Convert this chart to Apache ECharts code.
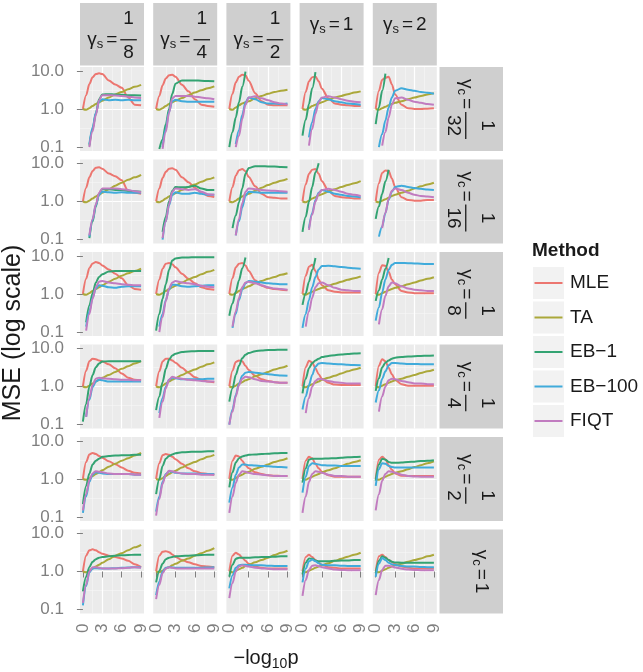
<!DOCTYPE html>
<html><head><meta charset="utf-8">
<script src="https://cdn.jsdelivr.net/npm/echarts@6/dist/echarts.min.js"></script>
<style>html,body{margin:0;padding:0;background:#fff}#c{width:643px;height:672px}</style>
</head><body><div id="c"></div>
<script>
// ---------- data ----------
const xGrid = [0, 0.5, 1, 1.5, 2, 2.5, 3, 4, 5, 6, 7, 8, 9];
const xTicks = [0, 3, 6, 9];
const yTicks = [0.1, 1, 10];
const gammaS = ['1/8', '1/4', '1/2', '1', '2'];
const gammaC = ['1/32', '1/16', '1/8', '1/4', '1/2', '1'];
const methods = ['MLE', 'TA', 'EB\u22121', 'EB\u2212100', 'FIQT'];

// gamma_c = 1/32
const mle_c32 = [
 [1.0, 2.3, 4.5, 6.8, 8.2, 8.6, 8.2, 5.6, 4.4, 3.6, 2.0, 1.3, 1.25],
 [1.0, 2.2, 4.2, 6.3, 7.6, 7.9, 7.0, 4.3, 2.9, 1.8, 1.3, 1.2, 1.15],
 [1.0, 2.5, 5.0, 7.0, 7.9, 7.6, 5.5, 2.6, 1.6, 1.3, 1.25, 1.25, 1.25],
 [1.0, 2.8, 5.3, 6.8, 7.1, 5.3, 3.4, 1.9, 1.4, 1.3, 1.25, 1.2, 1.2],
 [1.0, 3.0, 5.8, 6.6, 7.0, 4.4, 2.4, 1.3, 1.05, 1.0, 1.0, 1.02, 1.05]];
const ta_c32 = [
 [1.0, 0.95, 1.05, 1.2, 1.35, 1.5, 1.65, 2.0, 2.4, 2.8, 3.3, 3.8, 4.3],
 [1.0, 0.95, 1.05, 1.2, 1.35, 1.5, 1.65, 1.95, 2.3, 2.7, 3.1, 3.5, 3.9],
 [1.0, 0.95, 1.1, 1.25, 1.4, 1.5, 1.6, 1.9, 2.2, 2.5, 2.8, 3.0, 3.2],
 [1.0, 0.95, 1.05, 1.2, 1.3, 1.4, 1.5, 1.75, 2.0, 2.2, 2.45, 2.7, 2.9],
 [1.0, 0.95, 1.05, 1.15, 1.25, 1.35, 1.45, 1.6, 1.8, 2.0, 2.2, 2.4, 2.6]];
const eb1_c32 = [
 [null, null, 0.11, 0.3, 0.75, 1.8, 2.4, 2.45, 2.4, 2.35, 2.3, 2.3, 2.25],
 [null, 0.09, 0.16, 0.4, 1.0, 2.5, 4.6, 5.6, 5.6, 5.6, 5.5, 5.4, 5.3],
 [0.1, 0.25, 0.6, 1.5, 3.8, 9.5],
 [0.2, 0.52, 1.35, 3.5, 9.3],
 [0.4, 1.1, 3.0, 8.5]];
const eb100_c32 = [
 [null, null, 0.12, 0.33, 0.8, 1.55, 1.8, 1.7, 1.75, 1.7, 1.75, 1.7, 1.7],
 [null, null, 0.1, 0.3, 0.85, 1.6, 1.75, 1.6, 1.55, 1.55, 1.55, 1.55, 1.55],
 [null, null, 0.12, 0.28, 0.7, 1.5, 2.0, 1.8, 1.5, 1.4, 1.4, 1.35, 1.4],
 [null, null, 0.18, 0.45, 1.0, 1.6, 1.95, 1.8, 1.6, 1.5, 1.4, 1.35, 1.3],
 [null, 0.1, 0.22, 0.5, 1.1, 2.0, 3.0, 3.5, 3.2, 3.0, 2.8, 2.65, 2.5]];
const fiqt_c32 = [
 [null, null, 0.1, 0.26, 0.7, 1.7, 2.3, 2.3, 2.25, 2.2, 2.1, 2.0, 1.95],
 [null, null, 0.09, 0.25, 0.8, 1.9, 2.2, 2.2, 2.2, 2.1, 2.0, 1.9, 1.8],
 [null, null, 0.1, 0.2, 0.55, 1.3, 2.0, 2.15, 1.9, 1.7, 1.5, 1.4, 1.3],
 [null, null, 0.11, 0.3, 0.75, 1.5, 2.0, 2.15, 2.0, 1.8, 1.65, 1.55, 1.5],
 [null, null, 0.11, 0.25, 0.6, 1.3, 1.9, 2.0, 1.75, 1.55, 1.45, 1.35, 1.3]];

// gamma_c = 1/16
const mle_c16 = [
 [1.0, 2.3, 4.3, 6.3, 7.6, 7.9, 7.2, 5.4, 4.6, 3.6, 1.9, 1.7, 1.6],
 [1.0, 2.2, 4.1, 6.0, 7.2, 7.4, 6.8, 4.3, 3.2, 2.3, 1.7, 1.4, 1.3],
 [1.0, 2.4, 4.8, 6.6, 7.1, 6.2, 4.4, 2.5, 1.6, 1.3, 1.25, 1.2, 1.2],
 [1.0, 2.8, 5.3, 6.8, 7.1, 5.3, 3.4, 1.9, 1.4, 1.3, 1.25, 1.2, 1.2],
 [1.0, 3.0, 5.6, 6.5, 6.3, 4.0, 2.4, 1.3, 1.1, 1.05, 1.05, 1.1, 1.1]];
const ta_c16 = [
 [1.0, 0.95, 1.05, 1.2, 1.35, 1.5, 1.7, 2.1, 2.6, 3.1, 3.7, 4.3, 5.0],
 [1.0, 0.95, 1.05, 1.2, 1.35, 1.5, 1.65, 2.0, 2.4, 2.8, 3.3, 3.8, 4.3],
 [1.0, 0.95, 1.05, 1.2, 1.35, 1.5, 1.6, 1.9, 2.3, 2.7, 3.1, 3.5, 3.9],
 [1.0, 0.95, 1.05, 1.2, 1.3, 1.45, 1.55, 1.8, 2.1, 2.4, 2.7, 3.0, 3.4],
 [1.0, 0.95, 1.05, 1.15, 1.25, 1.4, 1.5, 1.7, 1.9, 2.2, 2.5, 2.8, 3.1]];
const eb1_c16 = [
 [null, null, 0.11, 0.3, 0.75, 1.6, 2.1, 2.1, 2.0, 2.0, 1.9, 1.85, 1.8],
 [null, null, 0.16, 0.4, 1.0, 1.9, 2.4, 2.35, 2.4, 2.6, 2.2, 2.0, 2.0],
 [null, 0.2, 0.43, 0.96, 2.2, 5.3, 7.5, 8.4, 8.4, 8.3, 8.2, 8.0, 7.9],
 [0.16, 0.4, 0.98, 2.4, 5.8, 10],
 [0.35, 0.75, 1.6, 3.4, 6.8]];
const eb100_c16 = [
 [null, null, 0.12, 0.33, 0.8, 1.5, 1.8, 1.75, 1.7, 1.75, 1.7, 1.7, 1.7],
 [null, null, 0.1, 0.3, 0.8, 1.5, 1.75, 1.6, 1.6, 1.7, 1.6, 1.5, 1.5],
 [null, null, 0.13, 0.3, 0.7, 1.4, 1.8, 1.75, 1.7, 1.7, 1.7, 1.7, 1.7],
 [null, null, 0.2, 0.5, 1.1, 1.7, 2.0, 1.8, 1.6, 1.5, 1.4, 1.35, 1.3],
 [null, 0.12, 0.22, 0.5, 1.1, 1.8, 2.4, 2.6, 2.4, 2.25, 2.15, 2.05, 2.0]];
const fiqt_c16 = [
 [null, null, 0.13, 0.35, 0.85, 1.7, 2.2, 2.2, 2.2, 2.1, 2.0, 1.85, 1.75],
 [null, null, 0.11, 0.3, 0.85, 1.8, 2.2, 2.1, 2.0, 2.1, 1.8, 1.55, 1.5],
 [null, null, 0.13, 0.35, 0.9, 1.8, 2.2, 2.1, 2.0, 1.95, 1.9, 1.85, 1.8],
 [null, null, 0.18, 0.45, 1.0, 1.6, 2.0, 2.15, 2.0, 1.8, 1.6, 1.5, 1.4],
 [null, null, 0.2, 0.5, 1.2, 1.9, 2.2, 2.0, 1.7, 1.5, 1.4, 1.35, 1.3]];

// gamma_c = 1/8
const mle_c8 = [
 [1.0, 2.5, 4.8, 6.3, 6.9, 6.5, 5.6, 4.4, 3.4, 2.6, 1.7, 1.35, 1.3],
 [1.0, 2.4, 4.6, 6.2, 6.5, 6.0, 5.0, 3.4, 2.5, 1.9, 1.5, 1.35, 1.3],
 [1.0, 2.6, 5.0, 6.2, 6.5, 5.6, 4.0, 2.3, 1.65, 1.45, 1.35, 1.3, 1.25],
 [1.0, 3.0, 5.2, 5.8, 4.0, 2.4, 1.7, 1.25, 1.15, 1.1, 1.1, 1.1, 1.1],
 [1.0, 3.6, 5.7, 5.5, 3.8, 2.4, 1.8, 1.2, 1.1, 1.05, 1.05, 1.05, 1.05]];
const ta_c8 = [
 [1.0, 0.95, 1.05, 1.2, 1.35, 1.5, 1.7, 2.1, 2.5, 3.0, 3.5, 4.0, 4.6],
 [1.0, 0.95, 1.05, 1.2, 1.35, 1.5, 1.65, 2.0, 2.4, 2.8, 3.3, 3.8, 4.3],
 [1.0, 0.95, 1.05, 1.2, 1.35, 1.45, 1.6, 1.9, 2.2, 2.5, 2.8, 3.2, 3.5],
 [1.0, 0.95, 1.05, 1.15, 1.25, 1.35, 1.45, 1.65, 1.85, 2.1, 2.35, 2.6, 2.9],
 [1.0, 0.95, 1.05, 1.15, 1.25, 1.35, 1.45, 1.6, 1.8, 2.0, 2.25, 2.5, 2.75]];
const eb1_c8 = [
 [null, 0.18, 0.5, 1.05, 2.0, 2.8, 3.3, 3.9, 4.0, 4.0, 4.0, 4.0, 4.0],
 [0.11, 0.3, 0.75, 1.8, 4.3, 7.5, 8.5, 9.0, 9.1, 9.2, 9.2, 9.2, 9.2],
 [0.27, 0.56, 1.15, 2.3, 4.7, 9.0],
 [0.52, 1.05, 2.1, 4.3, 8.8],
 [0.66, 1.25, 2.4, 4.6, 8.8]];
const eb100_c8 = [
 [null, 0.14, 0.35, 0.8, 1.4, 1.7, 1.65, 1.5, 1.45, 1.55, 1.6, 1.6, 1.6],
 [null, 0.14, 0.3, 0.7, 1.3, 1.75, 1.75, 1.6, 1.55, 1.6, 1.65, 1.7, 1.7],
 [null, 0.13, 0.3, 0.7, 1.3, 1.9, 2.2, 2.1, 2.0, 1.9, 1.85, 1.8, 1.8],
 [0.13, 0.3, 0.7, 1.5, 2.8, 4.4, 5.4, 5.5, 5.3, 5.1, 4.9, 4.7, 4.6],
 [0.2, 0.45, 1.1, 2.4, 4.3, 5.8, 6.5, 6.5, 6.4, 6.3, 6.2, 6.1, 6.1]];
const fiqt_c8 = [
 [null, 0.11, 0.3, 0.75, 1.5, 2.1, 2.2, 2.0, 1.9, 1.8, 1.75, 1.7, 1.7],
 [null, 0.1, 0.25, 0.65, 1.4, 2.0, 2.2, 2.0, 1.9, 1.8, 1.65, 1.55, 1.5],
 [null, 0.14, 0.35, 0.8, 1.5, 2.0, 2.1, 1.9, 1.7, 1.5, 1.4, 1.35, 1.3],
 [null, 0.14, 0.35, 0.8, 1.5, 1.9, 2.0, 1.7, 1.45, 1.3, 1.25, 1.2, 1.2],
 [null, 0.16, 0.4, 0.9, 1.6, 2.0, 1.9, 1.6, 1.4, 1.3, 1.25, 1.2, 1.2]];

// gamma_c = 1/4
const mle_c4 = [
 [1.0, 2.6, 4.6, 5.3, 5.2, 4.8, 4.5, 3.8, 3.0, 2.2, 1.7, 1.5, 1.45],
 [1.0, 2.5, 4.5, 5.3, 5.3, 4.8, 4.2, 3.1, 2.3, 1.75, 1.5, 1.35, 1.3],
 [1.0, 2.6, 4.4, 4.8, 4.6, 3.5, 2.7, 1.9, 1.55, 1.4, 1.3, 1.25, 1.25],
 [1.0, 3.2, 4.7, 4.3, 3.0, 2.1, 1.6, 1.25, 1.12, 1.1, 1.1, 1.1, 1.1],
 [1.0, 3.5, 5.2, 4.6, 3.1, 2.1, 1.5, 1.15, 1.05, 1.05, 1.05, 1.05, 1.05]];
const ta_c4 = [
 [1.0, 0.95, 1.05, 1.2, 1.35, 1.5, 1.7, 2.0, 2.4, 2.9, 3.4, 4.0, 4.6],
 [1.0, 0.95, 1.05, 1.2, 1.35, 1.5, 1.65, 2.0, 2.4, 2.8, 3.3, 3.8, 4.3],
 [1.0, 0.95, 1.05, 1.2, 1.3, 1.45, 1.55, 1.85, 2.1, 2.4, 2.8, 3.1, 3.5],
 [1.0, 0.95, 1.05, 1.15, 1.25, 1.35, 1.5, 1.7, 1.9, 2.2, 2.5, 2.8, 3.1],
 [1.0, 0.95, 1.05, 1.15, 1.25, 1.35, 1.45, 1.6, 1.8, 2.0, 2.25, 2.5, 2.75]];
const eb1_c4 = [
 [0.12, 0.35, 1.0, 2.0, 3.2, 4.0, 4.5, 4.6, 4.6, 4.6, 4.6, 4.6, 4.6],
 [0.24, 0.55, 1.3, 2.9, 5.0, 6.5, 7.2, 8.0, 8.3, 8.4, 8.5, 8.5, 8.5],
 [0.4, 0.9, 2.0, 3.5, 5.5, 6.8, 7.5, 8.4, 8.8, 9.0, 9.1, 9.2, 9.2],
 [0.66, 1.6, 3.0, 4.1, 4.8, 5.3, 5.9, 6.3, 6.6, 6.9, 7.1, 7.3, 7.4],
 [0.77, 1.65, 3.2, 4.2, 4.8, 5.3, 5.7, 5.9, 6.1, 6.2, 6.3, 6.4, 6.5]];
const eb100_c4 = [
 [null, 0.16, 0.45, 0.95, 1.35, 1.5, 1.45, 1.35, 1.35, 1.35, 1.35, 1.35, 1.35],
 [null, 0.2, 0.5, 1.0, 1.5, 1.7, 1.65, 1.55, 1.55, 1.55, 1.55, 1.6, 1.6],
 [0.1, 0.25, 0.6, 1.2, 1.9, 2.3, 2.4, 2.3, 2.2, 2.1, 2.0, 1.95, 1.9],
 [0.25, 0.55, 1.1, 2.0, 3.3, 4.0, 4.1, 4.0, 3.9, 3.8, 3.7, 3.65, 3.6],
 [0.38, 0.8, 1.6, 2.5, 3.6, 4.1, 4.1, 4.0, 3.9, 3.9, 3.85, 3.8, 3.8]];
const fiqt_c4 = [
 [null, 0.16, 0.5, 1.1, 1.6, 1.7, 1.65, 1.6, 1.55, 1.5, 1.5, 1.45, 1.45],
 [null, 0.15, 0.4, 0.9, 1.5, 1.8, 1.7, 1.6, 1.5, 1.45, 1.4, 1.35, 1.35],
 [0.1, 0.22, 0.55, 1.1, 1.6, 1.8, 1.75, 1.55, 1.4, 1.35, 1.3, 1.25, 1.25],
 [null, 0.2, 0.5, 1.0, 1.4, 1.6, 1.55, 1.4, 1.3, 1.25, 1.2, 1.2, 1.2],
 [null, 0.22, 0.55, 1.0, 1.45, 1.6, 1.55, 1.4, 1.3, 1.2, 1.2, 1.15, 1.15]];

// gamma_c = 1/2
const mle_c2 = [
 [1.0, 2.8, 4.4, 4.8, 4.5, 4.0, 3.6, 2.9, 2.45, 2.0, 1.65, 1.45, 1.4],
 [1.0, 2.6, 4.2, 4.5, 4.3, 3.8, 3.3, 2.5, 1.9, 1.6, 1.42, 1.35, 1.3],
 [1.0, 3.0, 4.1, 3.9, 3.0, 2.3, 1.9, 1.5, 1.35, 1.25, 1.22, 1.2, 1.2],
 [1.0, 3.0, 3.8, 3.5, 2.5, 1.9, 1.55, 1.25, 1.15, 1.15, 1.15, 1.15, 1.15],
 [1.0, 3.2, 3.8, 3.3, 2.3, 1.75, 1.4, 1.22, 1.2, 1.2, 1.2, 1.2, 1.2]];
const ta_c2 = [
 [1.0, 0.95, 1.05, 1.2, 1.35, 1.5, 1.7, 2.1, 2.5, 3.0, 3.5, 4.1, 4.8],
 [1.0, 0.95, 1.05, 1.2, 1.35, 1.5, 1.65, 2.0, 2.4, 2.8, 3.3, 3.8, 4.3],
 [1.0, 0.95, 1.05, 1.2, 1.3, 1.45, 1.55, 1.85, 2.1, 2.4, 2.8, 3.1, 3.5],
 [1.0, 0.95, 1.05, 1.15, 1.25, 1.35, 1.5, 1.7, 1.9, 2.2, 2.5, 2.8, 3.1],
 [1.0, 0.95, 1.05, 1.15, 1.25, 1.35, 1.45, 1.6, 1.8, 2.05, 2.3, 2.6, 2.9]];
const eb1_c2 = [
 [0.22, 0.66, 1.4, 2.4, 3.0, 3.4, 3.8, 4.0, 4.1, 4.2, 4.2, 4.3, 4.3],
 [0.4, 1.0, 2.2, 3.4, 4.0, 4.4, 4.7, 5.0, 5.1, 5.2, 5.2, 5.3, 5.3],
 [0.6, 1.5, 2.7, 3.5, 3.9, 4.1, 4.3, 4.4, 4.5, 4.6, 4.7, 4.8, 4.8],
 [0.8, 1.9, 3.2, 3.4, 3.4, 3.4, 3.4, 3.45, 3.5, 3.6, 3.7, 3.75, 3.8],
 [0.9, 2.4, 3.4, 3.2, 2.8, 2.65, 2.65, 2.7, 2.8, 2.85, 2.95, 3.0, 3.1]];
const eb100_c2 = [
 [0.13, 0.35, 0.85, 1.3, 1.5, 1.45, 1.4, 1.35, 1.35, 1.35, 1.35, 1.3, 1.3],
 [0.14, 0.35, 0.85, 1.35, 1.6, 1.55, 1.45, 1.4, 1.4, 1.4, 1.35, 1.35, 1.35],
 [0.24, 0.6, 1.3, 2.0, 2.4, 2.4, 2.3, 2.25, 2.2, 2.15, 2.1, 2.05, 2.0],
 [0.44, 1.15, 2.2, 2.6, 2.5, 2.4, 2.3, 2.25, 2.25, 2.2, 2.2, 2.2, 2.2],
 [0.66, 1.8, 2.6, 2.5, 2.2, 2.05, 2.0, 2.0, 2.0, 2.0, 2.0, 2.0, 2.0]];
const fiqt_c2 = [
 [0.15, 0.4, 0.95, 1.4, 1.6, 1.55, 1.5, 1.4, 1.35, 1.35, 1.35, 1.3, 1.3],
 [0.11, 0.3, 0.75, 1.3, 1.65, 1.6, 1.5, 1.4, 1.35, 1.35, 1.3, 1.3, 1.3],
 [0.13, 0.35, 0.8, 1.3, 1.6, 1.55, 1.45, 1.35, 1.3, 1.25, 1.2, 1.2, 1.2],
 [0.13, 0.35, 0.85, 1.35, 1.6, 1.55, 1.45, 1.3, 1.2, 1.2, 1.15, 1.15, 1.15],
 [0.15, 0.4, 0.9, 1.35, 1.6, 1.55, 1.45, 1.3, 1.2, 1.17, 1.15, 1.15, 1.15]];

// gamma_c = 1
const mle_c1 = [
 [1.0, 2.6, 3.6, 3.8, 3.6, 3.2, 2.9, 2.6, 2.4, 2.2, 1.9, 1.55, 1.3],
 [1.0, 2.6, 3.3, 3.4, 3.2, 2.8, 2.4, 2.0, 1.75, 1.55, 1.4, 1.35, 1.3],
 [1.0, 2.6, 3.1, 2.8, 2.3, 1.9, 1.6, 1.35, 1.25, 1.2, 1.2, 1.2, 1.2],
 [1.0, 2.4, 2.75, 2.4, 2.0, 1.7, 1.5, 1.3, 1.25, 1.2, 1.2, 1.2, 1.2],
 [1.0, 2.5, 2.75, 2.4, 2.0, 1.8, 1.55, 1.35, 1.25, 1.2, 1.2, 1.2, 1.2]];
const ta_c1 = [
 [1.0, 0.95, 1.05, 1.2, 1.35, 1.5, 1.7, 2.1, 2.6, 3.0, 3.6, 4.3, 5.0],
 [1.0, 0.95, 1.05, 1.2, 1.3, 1.45, 1.6, 1.9, 2.2, 2.6, 3.0, 3.5, 4.1],
 [1.0, 0.95, 1.05, 1.15, 1.25, 1.4, 1.5, 1.75, 2.0, 2.3, 2.7, 3.1, 3.5],
 [1.0, 0.95, 1.05, 1.15, 1.25, 1.35, 1.45, 1.65, 1.9, 2.15, 2.45, 2.75, 3.1],
 [1.0, 0.95, 1.05, 1.15, 1.25, 1.35, 1.45, 1.6, 1.8, 2.0, 2.2, 2.5, 2.75]];
const eb1_c1 = [
 [0.3, 0.73, 1.3, 1.8, 2.1, 2.3, 2.4, 2.5, 2.6, 2.65, 2.7, 2.75, 2.75],
 [0.52, 1.05, 1.6, 2.1, 2.3, 2.4, 2.5, 2.55, 2.6, 2.65, 2.7, 2.75, 2.75],
 [0.73, 1.5, 2.15, 2.3, 2.3, 2.3, 2.3, 2.35, 2.4, 2.4, 2.45, 2.5, 2.5],
 [0.84, 1.7, 2.2, 2.15, 1.95, 1.85, 1.85, 1.85, 1.9, 1.95, 1.95, 2.0, 2.0],
 [0.9, 1.9, 2.5, 2.3, 2.0, 1.8, 1.72, 1.7, 1.7, 1.7, 1.7, 1.7, 1.7]];
const eb100_c1 = [
 [0.13, 0.42, 0.95, 1.2, 1.22, 1.2, 1.2, 1.2, 1.22, 1.25, 1.27, 1.3, 1.3],
 [0.24, 0.55, 1.0, 1.25, 1.3, 1.28, 1.25, 1.25, 1.25, 1.25, 1.25, 1.28, 1.3],
 [0.36, 0.8, 1.25, 1.45, 1.5, 1.5, 1.48, 1.45, 1.45, 1.42, 1.4, 1.4, 1.4],
 [0.52, 1.2, 1.85, 2.05, 1.85, 1.65, 1.5, 1.45, 1.45, 1.42, 1.4, 1.4, 1.4],
 [0.73, 1.6, 2.25, 2.0, 1.7, 1.55, 1.48, 1.4, 1.35, 1.35, 1.32, 1.3, 1.3]];
const fiqt_c1 = [
 [0.15, 0.45, 1.0, 1.3, 1.3, 1.25, 1.2, 1.2, 1.2, 1.22, 1.25, 1.3, 1.25],
 [0.19, 0.45, 0.9, 1.2, 1.3, 1.25, 1.2, 1.2, 1.2, 1.2, 1.2, 1.2, 1.2],
 [0.2, 0.5, 1.0, 1.35, 1.45, 1.4, 1.35, 1.25, 1.2, 1.18, 1.15, 1.15, 1.15],
 [0.23, 0.6, 1.1, 1.42, 1.45, 1.38, 1.3, 1.2, 1.12, 1.1, 1.08, 1.08, 1.08],
 [0.24, 0.6, 1.1, 1.42, 1.42, 1.35, 1.28, 1.18, 1.12, 1.1, 1.08, 1.08, 1.08]];

// ---------- assembly ----------
const byMethod = [
  [mle_c32, mle_c16, mle_c8, mle_c4, mle_c2, mle_c1],
  [ta_c32, ta_c16, ta_c8, ta_c4, ta_c2, ta_c1],
  [eb1_c32, eb1_c16, eb1_c8, eb1_c4, eb1_c2, eb1_c1],
  [eb100_c32, eb100_c16, eb100_c8, eb100_c4, eb100_c2, eb100_c1],
  [fiqt_c32, fiqt_c16, fiqt_c8, fiqt_c4, fiqt_c2, fiqt_c1]
];

const FONT = '"Liberation Sans", Arial, Helvetica, sans-serif';
const COLORS = ['#EC7670', '#ABA83A', '#33A372', '#40ABDB', '#C17CC0'];
const GREY_TXT = '#7F7F7F';
const COL_LEFT = 80, COL_STEP = 73.2, PW = 64;
const ROW_TOP = 67, ROW_STEP = 92.5, PH = 84;
const STRIP_TOP = 3, STRIP_H = 62.5;
const RSTRIP_LEFT = 439.5, RSTRIP_W = 63.5;
const LEG_X = 533, LEG_Y = 267, LEG_KW = 31, LEG_KH = 32, LEG_STEP = 34.5;

const cv = document.createElement('canvas').getContext('2d');
function measure(t, size, weight) {
  cv.font = (weight || 'normal') + ' ' + size + 'px "Liberation Sans"';
  return cv.measureText(t).width;
}
function txt(t, x, y, size, align, extra) {
  return Object.assign({
    type: 'text', x: x, y: y, silent: true,
    style: { text: t, fontSize: size, fontFamily: FONT, fill: '#1A1A1A',
      align: align || 'left', textAlign: align || 'left',
      verticalAlign: 'middle', textVerticalAlign: 'middle' }
  }, extra || {});
}
function stripLabel(sub, value) {
  const parts = value.split('/');
  const F = 19, FS = 13;
  const wG = measure('\u03B3', F), wS = measure(sub, FS), wEq = measure('=', F);
  const gap1 = 3, gap2 = 3;
  const frac = parts.length === 2;
  const wR = frac ? Math.max(measure(parts[0], F), measure(parts[1], F)) + 6 : measure(parts[0], F);
  const cy = frac ? 5.5 : -9.5;
  const W = wG + wS + gap1 + wEq + gap2 + wR;
  let x = -W / 2;
  const ch = [];
  ch.push(txt('\u03B3', x, cy, F));
  x += wG;
  ch.push(txt(sub, x, cy + 4.5, FS));
  x += wS + gap1;
  ch.push(txt('=', x, cy, F));
  x += wEq + gap2;
  if (frac) {
    const cx = x + wR / 2;
    ch.push(txt(parts[0], cx, cy - 21, F, 'center'));
    ch.push({ type: 'line', silent: true, shape: { x1: x, y1: cy, x2: x + wR, y2: cy },
      style: { stroke: '#1A1A1A', lineWidth: 1.3 } });
    ch.push(txt(parts[1], cx, cy + 13, F, 'center'));
  } else {
    ch.push(txt(parts[0], x, cy, F));
  }
  return ch;
}

const grids = [], xAxes = [], yAxes = [], yMinor = [], series = [];
const nR = gammaC.length, nC = gammaS.length;
for (let i = 0; i < nR; i++) {
  for (let j = 0; j < nC; j++) {
    const k = i * nC + j;
    grids.push({ left: COL_LEFT + j * COL_STEP, top: ROW_TOP + i * ROW_STEP, width: PW, height: PH,
      show: true, backgroundColor: '#EBEBEB', borderWidth: 0, containLabel: false });
    xAxes.push({ gridIndex: k, type: 'value', min: -0.45, max: 9.45, splitNumber: 3,
      axisLine: { show: false },
      axisTick: { show: i === nR - 1, length: 6, customValues: xTicks, lineStyle: { color: GREY_TXT, width: 1 } },
      axisLabel: { show: i === nR - 1, customValues: xTicks, rotate: 90, margin: 10,
        fontSize: 17, color: GREY_TXT, fontFamily: FONT },
      splitLine: { show: true, showMinLine: false, showMaxLine: false, lineStyle: { color: '#FFFFFF', width: 1.2 } },
      minorTick: { show: false, splitNumber: 2 },
      minorSplitLine: { show: true, lineStyle: { color: '#F6F6F6', width: 0.6 } }
    });
    yAxes.push({ gridIndex: k, type: 'log', logBase: 10, min: 0.0794, max: 12.59,
      axisLine: { show: false },
      axisTick: { show: j === 0, length: 6, customValues: yTicks, lineStyle: { color: GREY_TXT, width: 1 } },
      axisLabel: { show: j === 0, customValues: yTicks, margin: 16, fontSize: 17, color: GREY_TXT,
        fontFamily: FONT, formatter: v => Number(v).toFixed(1) },
      splitLine: { show: true, showMinLine: false, showMaxLine: false, lineStyle: { color: '#FFFFFF', width: 1.2 } },
      minorSplitLine: { show: false }
    });
    yMinor.push({ gridIndex: k, type: 'value', min: -1.1, max: 1.1, splitNumber: 2, position: 'right',
      axisLine: { show: false }, axisTick: { show: false }, axisLabel: { show: false },
      splitLine: { show: false },
      minorTick: { show: false, splitNumber: 2 },
      minorSplitLine: { show: true, lineStyle: { color: '#F6F6F6', width: 0.6 } }
    });
    for (let m = 0; m < methods.length; m++) {
      const vals = byMethod[m][i][j];
      const data = [];
      xGrid.forEach((x, t) => { const v = vals[t]; if (v != null) data.push([x, v]); });
      series.push({ type: 'line', name: methods[m], xAxisIndex: k, yAxisIndex: k, data: data,
        symbol: 'none', smooth: 0.3, smoothMonotone: 'x', clip: true, silent: true,
        lineStyle: { width: 2, color: COLORS[m] }, itemStyle: { color: COLORS[m] },
        emphasis: { disabled: true } });
    }
  }
}

const graphics = [];
// top strips
for (let j = 0; j < nC; j++) {
  const x0 = COL_LEFT + j * COL_STEP;
  graphics.push({ type: 'rect', silent: true, shape: { x: x0, y: STRIP_TOP, width: PW, height: STRIP_H },
    style: { fill: '#CFCFCF' } });
  graphics.push({ type: 'group', x: x0 + PW / 2, y: STRIP_TOP + STRIP_H / 2, children: stripLabel('s', gammaS[j]) });
}
// right strips
for (let i = 0; i < nR; i++) {
  const y0 = ROW_TOP + i * ROW_STEP;
  graphics.push({ type: 'rect', silent: true, shape: { x: RSTRIP_LEFT, y: y0, width: RSTRIP_W, height: PH },
    style: { fill: '#CFCFCF' } });
  graphics.push({ type: 'group', x: RSTRIP_LEFT + RSTRIP_W / 2, y: y0 + PH / 2, rotation: -Math.PI / 2,
    children: stripLabel('c', gammaC[i]) });
}
// legend (keys drawn as grey squares with a coloured line, as in ggplot)
const legendTitle = txt('Method', LEG_X - 1, 251, 19, 'left', {});
legendTitle.style.fontWeight = 'bold';
graphics.push(legendTitle);
for (let m = 0; m < methods.length; m++) {
  const ky = LEG_Y + m * LEG_STEP;
  graphics.push({ type: 'rect', silent: true, shape: { x: LEG_X, y: ky, width: LEG_KW, height: LEG_KH },
    style: { fill: '#F2F2F2' } });
  graphics.push({ type: 'line', silent: true,
    shape: { x1: LEG_X + 1.5, y1: ky + LEG_KH / 2, x2: LEG_X + LEG_KW - 1.5, y2: ky + LEG_KH / 2 },
    style: { stroke: COLORS[m], lineWidth: 2 } });
  graphics.push(txt(methods[m], LEG_X + LEG_KW + 6, ky + LEG_KH / 2, 19, 'left', {}));
}
// axis titles
(function () {
  const F = 20, FS = 14;
  const a = '\u2212log', b = '10', c = 'p';
  const wa = measure(a, F), wb = measure(b, FS), wc = measure(c, F);
  const W = wa + wb + wc;
  let x = 266 - W / 2;
  graphics.push(txt(a, x, 658, F, 'left', {}));
  x += wa;
  graphics.push(txt(b, x, 664, FS, 'left', {}));
  x += wb;
  graphics.push(txt(c, x, 658, F, 'left', {}));
})();
graphics.push(txt('MSE (log scale)', 13, 333, 25, 'center', { rotation: Math.PI / 2 }));

const chart = echarts.init(document.getElementById('c'), null, { renderer: 'canvas' });
chart.setOption({
  backgroundColor: '#FFFFFF',
  animation: false,
  grid: grids,
  xAxis: xAxes,
  yAxis: yAxes.concat(yMinor),
  series: series,
  graphic: { elements: graphics }
});
</script>
</body></html>
